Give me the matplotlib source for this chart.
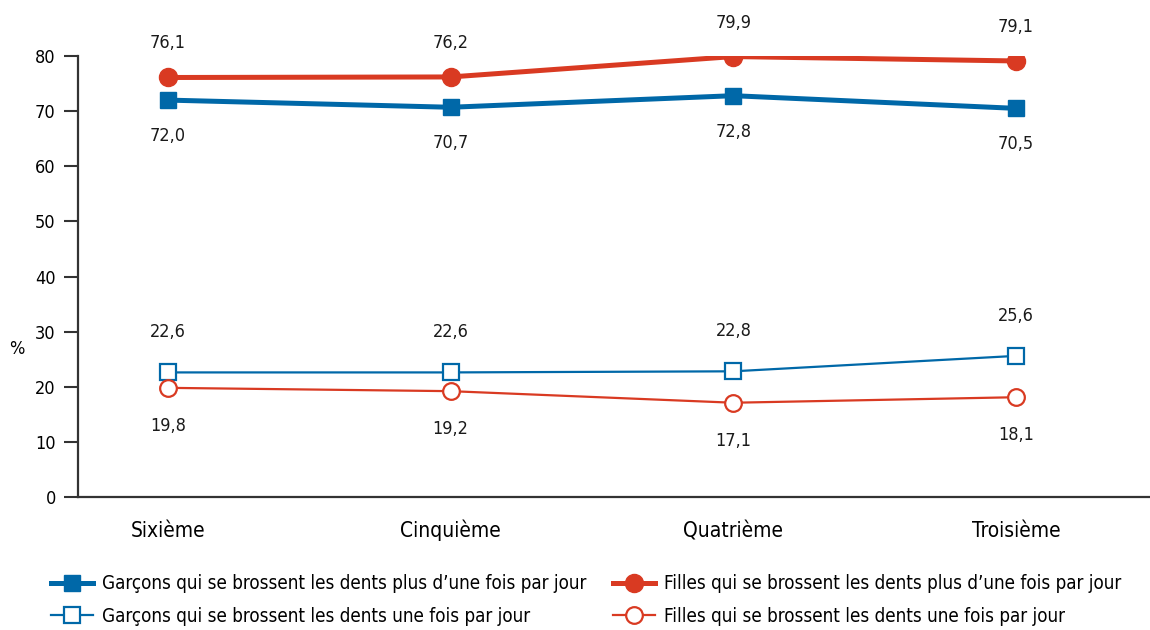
import matplotlib
matplotlib.use('Agg')
import matplotlib.pyplot as plt

plt.rcParams['font.family'] = ['DejaVu Sans']
plt.rcParams['font.stretch'] = 'condensed'

niveaux = ['Sixième', 'Cinquième', 'Quatrième', 'Troisième']
garcons_plus = [72.0, 70.7, 72.8, 70.5]
filles_plus = [76.1, 76.2, 79.9, 79.1]
garcons_une = [22.6, 22.6, 22.8, 25.6]
filles_une = [19.8, 19.2, 17.1, 18.1]

rouge = '#d93a22'
bleu = '#0068a8'

fig = plt.figure(figsize=(11.5, 6.3), dpi=100)
ax = fig.add_axes([78 / 1150, 1 - 497 / 630, 1 - 78 / 1150, 441 / 630])
x = range(len(niveaux))

l1, = ax.plot(x, garcons_plus, color=bleu, lw=3.6, marker='s', ms=12,
              label="Garçons qui se brossent les dents plus d\u2019une fois par jour")
l2, = ax.plot(x, garcons_une, color=bleu, lw=1.6, marker='s', ms=12, mfc='white', mew=1.6,
              label="Garçons qui se brossent les dents une fois par jour")
l3, = ax.plot(x, filles_plus, color=rouge, lw=3.6, marker='o', ms=13,
              label="Filles qui se brossent les dents plus d\u2019une fois par jour")
l4, = ax.plot(x, filles_une, color=rouge, lw=1.6, marker='o', ms=12, mfc='white', mew=1.6,
              label="Filles qui se brossent les dents une fois par jour")

def etiquettes(vals, dy):
    for i, v in enumerate(vals):
        ax.annotate(f'{v:.1f}'.replace('.', ','), (i, v), xytext=(0, dy),
                    textcoords='offset pixels', ha='center', va='center',
                    fontsize=13, color='#1a1a1a')

etiquettes(filles_plus, 34)
etiquettes(garcons_plus, -36)
etiquettes(garcons_une, 40)
etiquettes(filles_une, -38)

ax.set_ylim(0, 80)
ax.set_xlim(-90 / 282.7, 3 + 134 / 282.7)
ax.set_yticks(range(0, 81, 10))
ax.set_xticks(list(x))
ax.set_xticklabels(niveaux, fontsize=15)
for lab in ax.get_xticklabels():
    lab.set_verticalalignment('baseline')
ax.tick_params(axis='x', length=0, pad=29)
ax.tick_params(axis='y', length=10, width=1.5, color='#333333', labelsize=13, pad=6)
for s in ['top', 'right']:
    ax.spines[s].set_visible(False)
for s in ['left', 'bottom']:
    ax.spines[s].set_linewidth(1.6)
    ax.spines[s].set_color('#333333')

ax.set_ylabel('%', rotation=0, fontsize=13)
ax.yaxis.set_label_coords(-0.057, 0.315)

opts = dict(loc='upper left', frameon=False, fontsize=13.5, handlelength=2.2,
            labelspacing=0.72, handletextpad=0.5, borderpad=0)
fig.legend(handles=[l1, l2], bbox_to_anchor=(42 / 1150, 1 - 565 / 630), **opts)
fig.legend(handles=[l3, l4], bbox_to_anchor=(604 / 1150, 1 - 565 / 630), **opts)

fig.savefig('out.png', dpi=100)
